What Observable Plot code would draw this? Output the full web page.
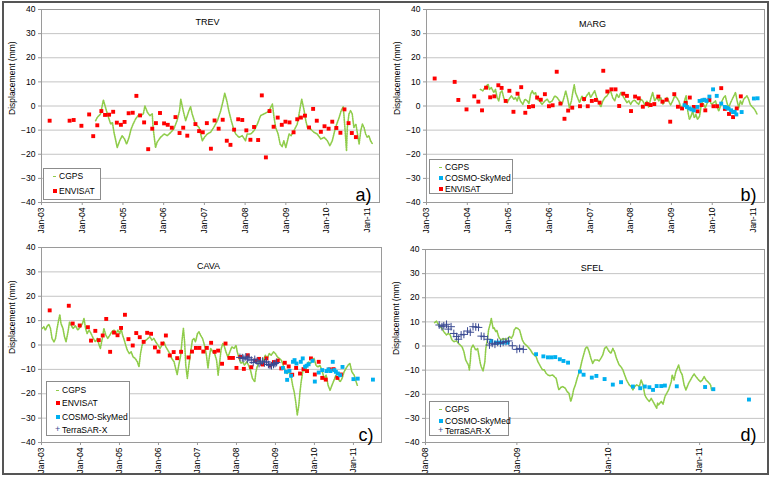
<!DOCTYPE html>
<html><head><meta charset="utf-8">
<script src="https://cdn.jsdelivr.net/npm/d3@7"></script>
<script src="https://cdn.jsdelivr.net/npm/@observablehq/plot@0.6"></script>
<style>
body{margin:0;background:#fff;}
#fig{position:relative;width:771px;height:478px;overflow:hidden;font-family:Arial,"Liberation Sans",sans-serif;background:#fff;}
.panel{position:absolute;}
.outer{position:absolute;left:2px;top:1px;width:767px;height:474px;border:2px solid #555;box-sizing:border-box;pointer-events:none;}
.legend{position:absolute;border:1px solid #8c8c8c;background:#fff;font-size:8.5px;box-sizing:border-box;color:#000;}
.legend .row{position:absolute;left:0;white-space:nowrap;line-height:10px;height:10px;}
.legend .mk{position:absolute;}
.legend .tx{position:absolute;}
</style></head><body><div id="fig"></div>
<script>
// ---------- axis ticks ----------
const yTicks = [-40, -30, -20, -10, 0, 10, 20, 30, 40];
const yearTicksLong = [2003, 2004, 2005, 2006, 2007, 2008, 2009, 2010, 2011];
const yearLabelsLong = ["Jan-03","Jan-04","Jan-05","Jan-06","Jan-07","Jan-08","Jan-09","Jan-10","Jan-11"];
const yearTicksShort = [2008, 2009, 2010, 2011];
const yearLabelsShort = ["Jan-08","Jan-09","Jan-10","Jan-11"];
const yLabel = "Displacement (mm)";
const titles = ["TREV", "MARG", "CAVA", "SFEL"];
const tags = ["a)", "b)", "c)", "d)"];

// ---------- TREV ----------
const trevCGPS = [[2004.33,-6.1],[2004.37,-4.7],[2004.45,-3.3],[2004.52,2.5],[2004.57,-0.5],[2004.63,-4.0],[2004.70,-7.5],[2004.74,-6.8],[2004.78,-10.9],[2004.86,-17.2],[2004.92,-14.4],[2004.98,-12.3],[2005.04,-13.7],[2005.09,-15.8],[2005.15,-13.0],[2005.20,-9.6],[2005.25,-7.5],[2005.31,-5.4],[2005.37,-4.0],[2005.43,-4.0],[2005.50,-3.3],[2005.54,0.0],[2005.60,-2.6],[2005.66,-4.0],[2005.72,-3.3],[2005.74,-9.0],[2005.80,-17.2],[2005.84,-15.0],[2005.92,-13.0],[2006.01,-11.6],[2006.09,-12.3],[2006.17,-11.0],[2006.25,-9.5],[2006.33,-6.0],[2006.39,-2.0],[2006.42,2.8],[2006.48,-2.0],[2006.54,-6.1],[2006.58,-4.0],[2006.62,-2.0],[2006.66,-0.3],[2006.70,-3.3],[2006.78,-7.5],[2006.87,-8.9],[2006.95,-14.4],[2007.00,-13.0],[2007.07,-11.6],[2007.15,-10.9],[2007.23,-8.9],[2007.32,-6.1],[2007.40,-2.0],[2007.46,2.2],[2007.50,5.3],[2007.55,2.2],[2007.60,-2.0],[2007.66,-6.1],[2007.73,-10.2],[2007.77,-11.6],[2007.85,-13.0],[2007.93,-12.3],[2008.01,-14.4],[2008.05,-11.6],[2008.14,-11.6],[2008.22,-10.2],[2008.30,-7.5],[2008.38,-4.0],[2008.46,-3.3],[2008.54,-2.6],[2008.61,-1.2],[2008.67,0.8],[2008.71,-4.7],[2008.75,-8.9],[2008.81,-11.6],[2008.86,-15.8],[2008.91,-16.8],[2008.95,-14.4],[2009.00,-17.2],[2009.04,-14.4],[2009.08,-11.6],[2009.13,-12.3],[2009.20,-10.2],[2009.28,-7.5],[2009.34,-1.9],[2009.39,2.8],[2009.45,-1.9],[2009.49,-6.1],[2009.53,-8.9],[2009.61,-9.6],[2009.69,-10.9],[2009.77,-11.6],[2009.86,-13.7],[2009.94,-13.0],[2010.02,-14.4],[2010.08,-16.5],[2010.14,-14.4],[2010.22,-8.9],[2010.31,-4.7],[2010.36,-1.9],[2010.41,-0.3],[2010.45,-8.9],[2010.49,-18.6],[2010.51,-8.9],[2010.55,-3.3],[2010.59,-1.9],[2010.63,-3.3],[2010.67,-8.9],[2010.72,-7.5],[2010.76,-11.6],[2010.80,-15.8],[2010.84,-10.2],[2010.88,-7.5],[2010.92,-8.9],[2010.96,-11.6],[2011.00,-13.0],[2011.04,-12.3],[2011.08,-14.4],[2011.12,-15.5]];
const trevENVISAT = [[2003.20,-6.1],[2003.69,-6.1],[2003.79,-5.8],[2003.98,-8.2],[2004.17,-3.5],[2004.27,-12.5],[2004.37,-8.0],[2004.47,-2.1],[2004.56,-3.7],[2004.66,-3.6],[2004.76,-2.4],[2004.85,-6.9],[2004.95,-7.8],[2005.04,-6.6],[2005.14,-3.0],[2005.24,-2.8],[2005.33,4.2],[2005.42,-3.9],[2005.52,-6.8],[2005.62,-17.9],[2005.72,-9.4],[2005.81,-7.1],[2005.91,-2.9],[2006.01,-7.2],[2006.10,-7.8],[2006.20,-9.0],[2006.29,-4.6],[2006.39,-11.2],[2006.48,-9.0],[2006.58,-12.3],[2006.78,-7.5],[2006.87,-10.4],[2006.96,-10.9],[2007.06,-7.1],[2007.16,-17.7],[2007.25,-6.0],[2007.35,-9.4],[2007.45,-5.7],[2007.55,-14.4],[2007.64,-16.1],[2007.73,-9.8],[2007.83,-5.5],[2007.93,-5.8],[2008.03,-10.1],[2008.13,-14.0],[2008.22,-8.7],[2008.32,-14.1],[2008.41,4.4],[2008.51,-21.3],[2008.60,-2.1],[2008.70,-8.6],[2008.80,-4.8],[2008.90,-7.8],[2008.99,-6.5],[2009.09,-6.8],[2009.19,-10.9],[2009.28,-5.5],[2009.37,-4.8],[2009.47,-4.0],[2009.57,-8.9],[2009.67,-1.2],[2009.76,-6.1],[2009.86,-10.7],[2009.95,-8.4],[2010.05,-9.4],[2010.14,-6.5],[2010.24,-9.1],[2010.34,-11.1],[2010.44,-1.4],[2010.54,-7.1],[2010.62,-11.2],[2010.72,-12.9]];

// ---------- MARG ----------
const margCGPS = [[2004.32,6.9],[2004.38,6.3],[2004.44,7.9],[2004.51,9.0],[2004.54,6.9],[2004.59,7.6],[2004.65,5.6],[2004.69,6.9],[2004.73,3.5],[2004.77,2.1],[2004.81,5.6],[2004.85,6.3],[2004.89,3.5],[2004.93,2.1],[2004.98,1.4],[2005.02,2.8],[2005.08,4.2],[2005.14,2.8],[2005.18,3.5],[2005.22,2.1],[2005.26,4.2],[2005.30,2.1],[2005.36,0.7],[2005.41,2.8],[2005.47,2.1],[2005.51,1.0],[2005.55,4.9],[2005.59,6.3],[2005.63,4.9],[2005.67,5.6],[2005.71,2.8],[2005.77,2.1],[2005.83,0.7],[2005.90,2.1],[2005.96,2.8],[2006.01,1.4],[2006.08,2.1],[2006.14,4.2],[2006.20,3.5],[2006.26,2.1],[2006.32,0.7],[2006.38,4.2],[2006.41,6.3],[2006.46,2.8],[2006.50,-0.7],[2006.55,2.1],[2006.59,6.3],[2006.62,8.8],[2006.65,5.6],[2006.70,3.5],[2006.75,1.4],[2006.81,4.2],[2006.86,2.1],[2006.92,4.2],[2006.98,5.6],[2007.02,3.5],[2007.07,4.9],[2007.12,6.3],[2007.17,3.5],[2007.22,1.4],[2007.27,-0.4],[2007.32,2.1],[2007.37,3.5],[2007.42,4.2],[2007.47,5.6],[2007.51,6.3],[2007.56,3.5],[2007.61,2.1],[2007.66,4.9],[2007.71,3.5],[2007.76,5.6],[2007.81,4.2],[2007.86,2.8],[2007.91,1.4],[2007.96,2.1],[2008.00,0.7],[2008.05,2.1],[2008.10,2.4],[2008.15,1.4],[2008.20,0.7],[2008.25,2.8],[2008.30,2.1],[2008.35,0.4],[2008.40,2.1],[2008.44,-0.4],[2008.49,2.8],[2008.54,5.6],[2008.59,2.1],[2008.64,3.5],[2008.69,2.1],[2008.74,3.5],[2008.79,0.7],[2008.84,2.1],[2008.89,3.5],[2008.93,2.1],[2008.98,0.4],[2009.03,2.1],[2009.08,4.2],[2009.13,3.5],[2009.18,2.1],[2009.23,-0.4],[2009.28,-1.4],[2009.33,2.8],[2009.36,4.2],[2009.40,-2.1],[2009.44,-5.6],[2009.48,-4.2],[2009.52,-2.1],[2009.56,-4.9],[2009.60,-3.5],[2009.64,-5.6],[2009.69,-4.2],[2009.72,-0.7],[2009.75,1.4],[2009.79,0.7],[2009.83,-0.7],[2009.88,1.4],[2009.93,2.4],[2009.98,0.7],[2010.03,1.4],[2010.08,2.1],[2010.12,-0.4],[2010.16,-2.1],[2010.20,0.0],[2010.24,2.1],[2010.28,3.5],[2010.32,4.2],[2010.36,1.4],[2010.40,-0.7],[2010.45,1.4],[2010.49,2.8],[2010.53,4.2],[2010.57,5.6],[2010.61,2.1],[2010.65,-0.7],[2010.69,2.1],[2010.73,0.7],[2010.77,2.8],[2010.81,3.5],[2010.85,4.2],[2010.89,2.8],[2010.93,0.7],[2010.98,-0.4],[2011.02,-1.0],[2011.06,-2.1],[2011.10,-3.5]];
const margENVISAT = [[2003.20,11.4],[2003.69,10.0],[2003.78,2.5],[2003.98,-1.4],[2004.17,4.0],[2004.27,1.8],[2004.36,-1.8],[2004.46,7.6],[2004.56,3.6],[2004.66,4.0],[2004.76,8.6],[2004.84,7.5],[2004.94,2.1],[2005.03,6.3],[2005.13,-2.4],[2005.23,5.1],[2005.32,7.8],[2005.42,-2.8],[2005.51,-0.4],[2005.61,-0.1],[2005.71,3.5],[2005.80,2.6],[2005.90,4.9],[2006.00,-0.1],[2006.09,0.3],[2006.19,14.2],[2006.28,1.0],[2006.38,-5.3],[2006.47,-1.9],[2006.57,-0.7],[2006.76,-0.1],[2006.86,2.9],[2006.95,-0.1],[2007.05,2.1],[2007.15,2.5],[2007.24,1.4],[2007.33,14.6],[2007.43,6.0],[2007.53,6.9],[2007.63,6.9],[2007.72,0.0],[2007.82,5.1],[2007.91,4.2],[2008.01,-2.1],[2008.11,3.9],[2008.20,3.2],[2008.30,-0.3],[2008.40,0.8],[2008.49,0.4],[2008.58,0.8],[2008.68,3.9],[2008.78,1.8],[2008.88,2.6],[2008.97,-6.5],[2009.07,4.9],[2009.16,-0.3],[2009.26,-1.0],[2009.35,1.3],[2009.45,3.5],[2009.55,-0.4],[2009.64,-2.2],[2009.74,0.4],[2009.83,-1.8],[2009.93,2.5],[2010.03,-0.1],[2010.12,-0.1],[2010.22,7.4],[2010.31,-1.2],[2010.41,-3.3],[2010.51,-4.6],[2010.60,-1.0],[2010.70,4.0]];
const margCOSMO = [[2009.32,0.3],[2009.38,-0.4],[2009.44,-1.0],[2009.49,-1.4],[2009.55,-1.8],[2009.64,-0.4],[2009.69,2.1],[2009.76,2.4],[2009.81,2.6],[2009.86,2.1],[2009.93,3.9],[2010.02,6.9],[2010.11,4.2],[2010.22,1.0],[2010.31,-0.4],[2010.36,-0.7],[2010.40,-1.1],[2010.46,-1.8],[2010.51,-2.5],[2010.55,-2.4],[2010.59,-3.5],[2010.72,-2.5],[2011.02,3.1],[2011.11,3.2]];

// ---------- CAVA ----------
const cavaCGPS = [[2003.02,6.8],[2003.06,7.5],[2003.10,6.1],[2003.15,7.9],[2003.19,8.4],[2003.23,6.8],[2003.27,2.7],[2003.32,1.3],[2003.36,2.7],[2003.40,6.8],[2003.44,10.2],[2003.47,12.5],[2003.50,8.8],[2003.55,6.8],[2003.59,3.4],[2003.63,1.3],[2003.68,5.4],[2003.72,9.5],[2003.76,8.1],[2003.81,6.8],[2003.87,7.9],[2003.93,6.1],[2004.00,7.5],[2004.05,8.8],[2004.09,10.9],[2004.13,6.8],[2004.17,4.7],[2004.22,6.1],[2004.27,4.7],[2004.33,2.7],[2004.38,1.3],[2004.43,2.7],[2004.48,-0.1],[2004.51,-1.4],[2004.56,2.7],[2004.60,6.8],[2004.65,4.0],[2004.70,2.7],[2004.75,4.0],[2004.80,5.4],[2004.86,6.1],[2004.91,4.7],[2004.96,6.1],[2005.01,4.7],[2005.04,6.8],[2005.08,4.0],[2005.11,2.7],[2005.16,-0.1],[2005.20,-2.1],[2005.25,-3.5],[2005.30,-2.8],[2005.35,-4.9],[2005.40,-5.5],[2005.46,-6.9],[2005.50,-9.0],[2005.54,-3.5],[2005.58,-0.1],[2005.63,1.3],[2005.68,2.0],[2005.73,2.7],[2005.78,3.4],[2005.83,2.0],[2005.88,2.7],[2005.93,1.3],[2005.99,-0.1],[2006.04,-1.4],[2006.09,-0.1],[2006.14,1.3],[2006.19,-0.8],[2006.24,-2.1],[2006.29,-3.5],[2006.34,-5.5],[2006.40,-6.9],[2006.45,-10.3],[2006.48,-12.1],[2006.52,-8.3],[2006.57,-4.2],[2006.61,2.7],[2006.64,6.8],[2006.67,1.3],[2006.70,-8.3],[2006.74,-13.7],[2006.78,-8.3],[2006.82,-3.5],[2006.87,2.0],[2006.91,2.7],[2006.95,1.3],[2007.00,4.7],[2007.04,5.4],[2007.08,4.0],[2007.13,2.7],[2007.18,-0.1],[2007.23,-4.2],[2007.27,-9.6],[2007.30,-5.5],[2007.34,-1.4],[2007.39,-2.8],[2007.44,-3.5],[2007.49,-6.2],[2007.53,-12.4],[2007.58,-5.5],[2007.61,-1.4],[2007.65,0.6],[2007.68,-0.1],[2007.73,-2.8],[2007.78,-4.9],[2007.83,-2.8],[2007.88,-0.8],[2007.94,-1.4],[2007.99,-0.1],[2008.02,-2.8],[2008.07,-5.5],[2008.11,-7.5],[2008.16,-6.9],[2008.21,-8.3],[2008.26,-6.9],[2008.31,-8.3],[2008.36,-10.3],[2008.41,-13.7],[2008.47,-15.1],[2008.50,-11.0],[2008.53,-9.0],[2008.59,-6.9],[2008.64,-8.3],[2008.69,-6.2],[2008.74,-4.2],[2008.79,-5.5],[2008.84,-3.5],[2008.89,-4.2],[2008.95,-2.8],[2009.00,-3.5],[2009.05,-4.9],[2009.10,-5.5],[2009.15,-6.2],[2009.20,-8.3],[2009.25,-10.3],[2009.30,-11.7],[2009.36,-11.0],[2009.41,-13.7],[2009.44,-16.5],[2009.48,-19.2],[2009.52,-23.3],[2009.56,-28.8],[2009.60,-24.7],[2009.63,-19.2],[2009.66,-15.1],[2009.70,-11.0],[2009.73,-9.6],[2009.77,-11.0],[2009.80,-8.3],[2009.85,-6.9],[2009.90,-7.6],[2009.95,-6.2],[2009.99,-5.5],[2010.04,-8.3],[2010.09,-9.0],[2010.14,-8.3],[2010.19,-10.3],[2010.25,-13.7],[2010.30,-12.4],[2010.35,-16.5],[2010.40,-18.6],[2010.45,-16.5],[2010.50,-14.5],[2010.55,-12.4],[2010.60,-13.7],[2010.66,-15.1],[2010.71,-13.7],[2010.76,-11.0],[2010.81,-9.6],[2010.86,-8.3],[2010.91,-7.6],[2010.96,-11.0],[2011.02,-12.4],[2011.07,-15.1],[2011.10,-16.5]];
const cavaENVISAT = [[2003.21,14.2],[2003.70,16.1],[2003.80,8.8],[2003.98,8.0],[2004.19,7.3],[2004.27,1.8],[2004.38,5.8],[2004.47,2.0],[2004.57,3.9],[2004.66,10.7],[2004.76,-2.8],[2004.86,5.1],[2004.95,4.0],[2005.04,7.0],[2005.14,12.4],[2005.23,2.4],[2005.34,-0.2],[2005.43,4.9],[2005.52,3.2],[2005.62,1.3],[2005.71,5.0],[2005.81,4.6],[2005.91,-1.0],[2006.00,-2.7],[2006.10,0.6],[2006.19,3.9],[2006.29,-4.3],[2006.39,-2.9],[2006.48,-5.4],[2006.58,-2.8],[2006.77,-5.1],[2006.86,-2.7],[2006.96,-1.2],[2007.05,-1.2],[2007.15,-2.7],[2007.24,-1.2],[2007.35,0.9],[2007.44,-2.8],[2007.53,-2.3],[2007.63,-7.7],[2007.72,0.6],[2007.82,-5.3],[2007.91,-5.3],[2008.00,-9.4],[2008.10,-4.9],[2008.19,-9.8],[2008.29,-4.2],[2008.38,-9.1],[2008.48,-6.4],[2008.58,-5.7],[2008.67,-8.0],[2008.77,-5.5],[2008.86,-8.4],[2008.96,-7.0],[2009.06,-6.4],[2009.15,-9.6],[2009.24,-7.3],[2009.34,-8.8],[2009.43,-12.2],[2009.53,-9.4],[2009.63,-11.7],[2009.72,-9.9],[2009.81,-10.7],[2009.91,-5.5],[2010.01,-12.1],[2010.11,-6.9],[2010.20,-13.5],[2010.29,-14.2],[2010.39,-10.0],[2010.49,-9.9],[2010.59,-13.5],[2010.68,-12.1]];
const cavaCOSMO = [[2009.19,-9.4],[2009.27,-11.0],[2009.30,-14.3],[2009.36,-10.6],[2009.40,-12.6],[2009.45,-6.9],[2009.49,-6.2],[2009.54,-7.6],[2009.65,-6.9],[2009.70,-5.5],[2009.76,-8.9],[2009.80,-8.5],[2009.85,-7.9],[2009.95,-6.5],[2010.01,-15.0],[2010.11,-11.3],[2010.20,-10.3],[2010.31,-10.7],[2010.36,-10.0],[2010.41,-10.7],[2010.47,-6.9],[2010.51,-10.3],[2010.55,-11.0],[2010.60,-11.7],[2010.66,-12.4],[2010.72,-9.0],[2011.00,-14.0],[2011.11,-13.8],[2011.50,-14.2]];
const cavaTSX = [[2008.09,-5.1],[2008.15,-5.2],[2008.19,-5.5],[2008.24,-4.9],[2008.28,-5.8],[2008.32,-5.2],[2008.38,-6.2],[2008.43,-7.2],[2008.47,-5.9],[2008.53,-6.6],[2008.58,-7.6],[2008.62,-6.9],[2008.67,-6.6],[2008.72,-7.3],[2008.77,-6.9],[2008.82,-8.0],[2008.86,-8.3],[2008.90,-8.5],[2008.95,-8.0],[2008.99,-7.6],[2009.03,-7.2]];

// ---------- SFEL ----------
const sfelCGPS = [[2008.10,9.7],[2008.12,10.3],[2008.14,9.0],[2008.16,8.0],[2008.18,7.3],[2008.20,5.9],[2008.23,4.6],[2008.25,5.2],[2008.27,4.6],[2008.29,2.5],[2008.31,1.8],[2008.34,2.1],[2008.36,1.1],[2008.38,0.4],[2008.40,-0.3],[2008.42,-2.3],[2008.44,-5.8],[2008.46,-7.2],[2008.47,-7.9],[2008.48,-9.9],[2008.49,-6.5],[2008.50,-1.0],[2008.52,0.4],[2008.53,-0.3],[2008.55,-1.7],[2008.57,-1.0],[2008.58,-3.0],[2008.60,-7.2],[2008.61,-8.6],[2008.63,-10.3],[2008.65,-6.5],[2008.66,-1.0],[2008.68,3.2],[2008.69,6.6],[2008.71,9.4],[2008.72,11.4],[2008.74,7.3],[2008.75,7.6],[2008.77,5.9],[2008.78,6.6],[2008.80,3.9],[2008.81,3.2],[2008.83,2.5],[2008.85,3.2],[2008.88,2.5],[2008.90,3.2],[2008.92,3.9],[2008.94,3.2],[2008.96,4.6],[2008.97,6.6],[2008.99,7.6],[2009.01,7.3],[2009.03,6.6],[2009.04,5.2],[2009.06,2.5],[2009.08,1.1],[2009.10,0.4],[2009.12,-0.3],[2009.15,-1.7],[2009.17,-3.0],[2009.19,-3.7],[2009.21,-4.4],[2009.23,-6.5],[2009.26,-8.6],[2009.28,-9.9],[2009.30,-9.9],[2009.32,-11.3],[2009.34,-12.0],[2009.36,-12.3],[2009.39,-12.0],[2009.41,-12.7],[2009.43,-13.4],[2009.45,-16.8],[2009.46,-18.2],[2009.48,-17.2],[2009.50,-16.8],[2009.53,-17.5],[2009.55,-18.9],[2009.57,-19.6],[2009.59,-23.0],[2009.61,-20.3],[2009.62,-18.2],[2009.64,-16.1],[2009.66,-13.4],[2009.69,-9.9],[2009.71,-6.5],[2009.73,-3.7],[2009.75,-1.0],[2009.77,-0.3],[2009.79,-2.3],[2009.81,-5.1],[2009.83,-7.2],[2009.85,-5.8],[2009.88,-5.8],[2009.90,-6.2],[2009.92,-5.1],[2009.94,-3.7],[2009.96,-1.0],[2009.98,-0.3],[2009.99,-1.0],[2010.01,-2.3],[2010.03,-3.0],[2010.05,-1.0],[2010.07,-2.5],[2010.09,-5.1],[2010.12,-7.9],[2010.14,-8.6],[2010.16,-9.9],[2010.18,-12.0],[2010.20,-14.1],[2010.23,-16.1],[2010.25,-16.8],[2010.27,-18.2],[2010.29,-16.8],[2010.31,-16.1],[2010.34,-16.8],[2010.36,-14.1],[2010.38,-16.1],[2010.40,-20.3],[2010.42,-21.7],[2010.45,-23.0],[2010.47,-21.7],[2010.49,-23.0],[2010.51,-24.4],[2010.53,-25.8],[2010.54,-23.7],[2010.55,-24.4],[2010.58,-23.0],[2010.60,-24.1],[2010.62,-21.0],[2010.64,-19.6],[2010.66,-18.2],[2010.69,-14.8],[2010.70,-12.0],[2010.72,-14.1],[2010.74,-10.6],[2010.77,-7.9],[2010.79,-10.6],[2010.81,-12.0],[2010.83,-16.1],[2010.85,-18.2],[2010.88,-15.4],[2010.90,-14.1],[2010.92,-12.7],[2010.94,-11.6],[2010.96,-12.7],[2010.99,-14.1],[2011.01,-14.8],[2011.03,-14.1],[2011.05,-12.7],[2011.07,-14.1],[2011.09,-14.8],[2011.12,-16.1],[2011.13,-18.2]];
const sfelCOSMO = [[2008.72,2.1],[2008.77,1.4],[2008.81,1.4],[2008.85,1.4],[2008.90,1.4],[2009.21,-3.4],[2009.29,-4.3],[2009.34,-4.7],[2009.38,-4.7],[2009.42,-4.6],[2009.47,-5.5],[2009.51,-6.2],[2009.56,-6.9],[2009.69,-10.6],[2009.73,-11.9],[2009.82,-13.1],[2009.87,-12.4],[2009.96,-13.7],[2010.05,-16.0],[2010.14,-15.0],[2010.27,-16.8],[2010.35,-17.5],[2010.40,-16.8],[2010.45,-17.1],[2010.49,-18.2],[2010.53,-16.6],[2010.58,-16.6],[2010.62,-16.4],[2010.75,-16.7],[2011.06,-17.0],[2011.15,-17.9],[2011.54,-22.2]];
const sfelTSX = [[2008.15,8.7],[2008.18,8.0],[2008.20,8.4],[2008.23,9.0],[2008.25,7.0],[2008.28,8.0],[2008.31,5.2],[2008.34,3.9],[2008.36,2.8],[2008.39,4.6],[2008.42,4.8],[2008.46,6.2],[2008.49,5.7],[2008.52,8.0],[2008.55,7.9],[2008.58,7.7],[2008.61,4.1],[2008.64,3.9],[2008.68,2.8],[2008.70,0.4],[2008.73,1.1],[2008.76,0.7],[2008.79,1.5],[2008.82,1.1],[2008.85,1.5],[2008.88,1.8],[2008.91,2.1],[2008.95,0.1],[2009.00,-1.4],[2009.03,-1.0],[2009.07,-1.4]];

// ---------- style ----------
const colors = {CGPS: "#8fcc4a", ENVISAT: "#ff0000", "COSMO-SkyMed": "#00b0f0", "TerraSAR-X": "#3a4a92"};
const FONT = "Arial, 'Liberation Sans', sans-serif";

function seriesMarks(name, data) {
  const x = d => d[0], y = d => d[1];
  if (name === "CGPS") return Plot.line(data, {x, y, stroke: colors.CGPS, strokeWidth: 1.6, strokeDasharray: "1.2,1.1"});
  if (name === "TerraSAR-X") return Plot.dot(data, {x, y, symbol: "plus", r: 2.6, stroke: colors[name], strokeWidth: 1});
  return Plot.dot(data, {x, y, symbol: "square", r: 2.2, fill: colors[name]});
}

function makePanel(cfg) {
  const p = Plot.plot({
    width: cfg.width, height: cfg.height,
    marginTop: cfg.mt, marginRight: cfg.mr, marginBottom: cfg.mb, marginLeft: cfg.ml,
    style: {fontFamily: FONT, fontSize: "8.5px", background: "transparent", color: "#000", overflow: "visible"},
    x: {type: "linear", domain: cfg.domain},
    y: {domain: [-40, 40]},
    marks: [
      Plot.ruleY(yTicks, {stroke: "#c4c4c4", strokeWidth: 1}),
      Plot.frame({stroke: "#9a9a9a"}),
      ...cfg.series.map(([name, data]) => seriesMarks(name, data)),
      Plot.axisY({ticks: yTicks, tickSize: 3, tickPadding: 3, label: null, stroke: "#999", fill: "#000"}),
      Plot.axisX({ticks: cfg.ticks, tickFormat: d => cfg.labels[cfg.ticks.indexOf(d)], tickRotate: -90, tickSize: 3, tickPadding: 2, label: null, stroke: "#999", fill: "#000"}),
      Plot.text([cfg.title], {frameAnchor: "top", dx: -3, dy: cfg.titleDy, fontSize: 9, fill: "#000"}),
      Plot.text([cfg.tag], {frameAnchor: "bottom-right", dx: -8, dy: -2, fontSize: 18, textAnchor: "end", lineAnchor: "bottom", fill: "#000"}),
      Plot.text([yLabel], {frameAnchor: "left", rotate: -90, dx: -29, dy: cfg.ylabDy, fontSize: 8.5, fill: "#000"})
    ]
  });
  const wrap = document.createElement("div");
  wrap.className = "panel";
  wrap.style.left = cfg.left + "px";
  wrap.style.top = cfg.top + "px";
  wrap.appendChild(p);
  document.getElementById("fig").appendChild(wrap);
}

function makeLegend(box, names, rowsY) {
  const lg = document.createElement("div");
  lg.className = "legend";
  Object.assign(lg.style, {left: box[0] + "px", top: box[1] + "px", width: box[2] + "px", height: box[3] + "px"});
  names.forEach((n, i) => {
    const row = document.createElement("div");
    row.className = "row";
    row.style.top = (rowsY[i] - 5) + "px";
    let mk;
    if (n === "CGPS") mk = `<span class="mk" style="left:9px;top:4.5px;width:3px;height:1px;background:${colors.CGPS}"></span>`;
    else if (n === "TerraSAR-X") mk = `<span class="mk" style="left:8px;top:-1px;color:${colors[n]};font-size:9px">+</span>`;
    else mk = `<span class="mk" style="left:9px;top:3px;width:4px;height:4px;background:${colors[n]}"></span>`;
    row.innerHTML = mk + `<span class="tx" style="left:15px;top:0">${n}</span>`;
    lg.appendChild(row);
  });
  document.getElementById("fig").appendChild(lg);
}

makePanel({left: 0, top: 0, width: 385, height: 238, mt: 9, mr: 6, mb: 36, ml: 41, domain: [2003, 2011.30],
  ticks: yearTicksLong, labels: yearLabelsLong, title: titles[0], titleDy: 9, tag: tags[0], ylabDy: 9,
  series: [["CGPS", trevCGPS], ["ENVISAT", trevENVISAT]]});
makePanel({left: 385, top: 0, width: 386, height: 238, mt: 9, mr: 7, mb: 36, ml: 41, domain: [2003, 2011.28],
  ticks: yearTicksLong, labels: yearLabelsLong, title: titles[1], titleDy: 11, tag: tags[1], ylabDy: 9,
  series: [["CGPS", margCGPS], ["ENVISAT", margENVISAT], ["COSMO-SkyMed", margCOSMO]]});
makePanel({left: 0, top: 238, width: 385, height: 240, mt: 9, mr: 4, mb: 36, ml: 41, domain: [2003, 2011.72],
  ticks: yearTicksLong, labels: yearLabelsLong, title: titles[2], titleDy: 15, tag: tags[2], ylabDy: 9,
  series: [["CGPS", cavaCGPS], ["ENVISAT", cavaENVISAT], ["COSMO-SkyMed", cavaCOSMO], ["TerraSAR-X", cavaTSX]]});
makePanel({left: 385, top: 238, width: 386, height: 240, mt: 11, mr: 7, mb: 36, ml: 40, domain: [2008, 2011.71],
  ticks: yearTicksShort, labels: yearLabelsShort, title: titles[3], titleDy: 15, tag: tags[3], ylabDy: 9,
  series: [["CGPS", sfelCGPS], ["COSMO-SkyMed", sfelCOSMO], ["TerraSAR-X", sfelTSX]]});

makeLegend([43, 168, 58, 32], ["CGPS", "ENVISAT"], [7, 22]);
makeLegend([429, 159, 84, 35], ["CGPS", "COSMO-SkyMed", "ENVISAT"], [7, 18, 29]);
makeLegend([46, 381, 84, 55], ["CGPS", "ENVISAT", "COSMO-SkyMed", "TerraSAR-X"], [8, 21, 35, 48]);
makeLegend([429, 401, 80, 35], ["CGPS", "COSMO-SkyMed", "TerraSAR-X"], [7, 19, 29]);

const outer = document.createElement("div");
outer.className = "outer";
document.getElementById("fig").appendChild(outer);
</script></body></html>
